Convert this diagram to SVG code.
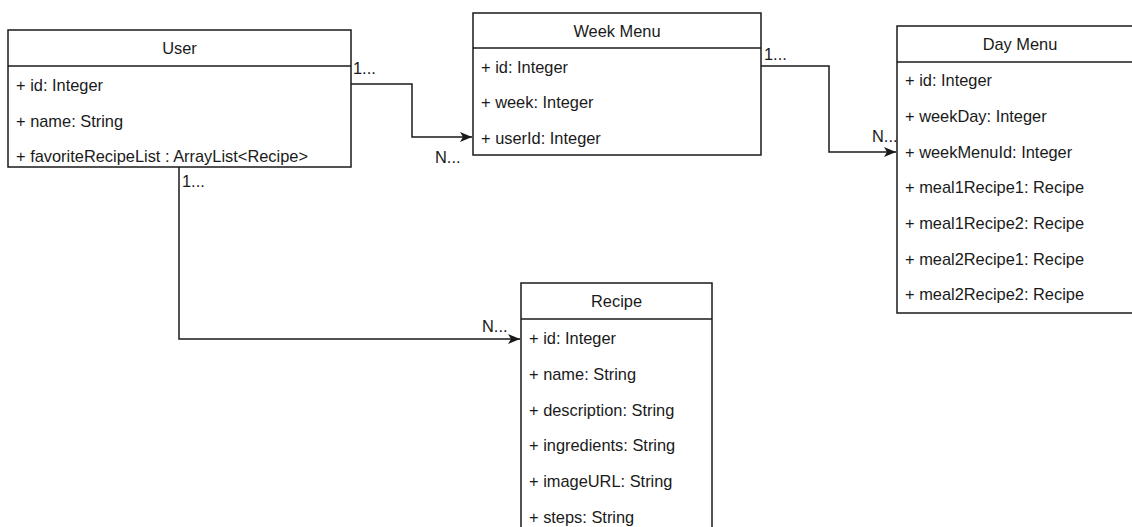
<svg xmlns="http://www.w3.org/2000/svg" width="1132" height="527" viewBox="0 0 1132 527">
<style>
  .box{fill:#fff;stroke:#1a1a1a;stroke-width:1.5}
  .sep{stroke:#1a1a1a;stroke-width:1.5}
  text{font-family:"Liberation Sans",Arial,sans-serif;font-size:16.4px;fill:#1a1a1a}
  .title{text-anchor:middle}
  .edge{fill:none;stroke:#1a1a1a;stroke-width:1.5}
</style>
<defs>
  <marker id="arrow" markerUnits="userSpaceOnUse" markerWidth="14" markerHeight="12" refX="12" refY="5" orient="auto">
    <path d="M0,0 L12,5 L0,10 L3,5 Z" fill="#1a1a1a"/>
  </marker>
</defs>
<rect width="1132" height="527" fill="#fff"/>
<g id="connectors">
  <path class="edge" d="M351,84 H412 V137 H472" marker-end="url(#arrow)"/>
  <path class="edge" d="M761,66 H829 V152 H896" marker-end="url(#arrow)"/>
  <path class="edge" d="M179,167 V339 H520" marker-end="url(#arrow)"/>
  <text x="353" y="74">1...</text>
  <text x="435" y="163">N...</text>
  <text x="764" y="60">1...</text>
  <text x="872" y="142">N...</text>
  <text x="182" y="187">1...</text>
  <text x="482" y="332">N...</text>
</g>
<g id="user">
  <rect class="box" x="8" y="30" width="343" height="137"/>
  <line class="sep" x1="8" y1="66" x2="351" y2="66"/>
  <text class="title" x="179.5" y="54">User</text>
  <text x="16" y="91">+ id: Integer</text>
  <text x="16" y="127">+ name: String</text>
  <text x="16" y="162">+ favoriteRecipeList : ArrayList&lt;Recipe&gt;</text>
</g>
<g id="week-menu">
  <rect class="box" x="473" y="13" width="288" height="142"/>
  <line class="sep" x1="473" y1="48" x2="761" y2="48"/>
  <text class="title" x="617" y="37">Week Menu</text>
  <text x="481" y="73">+ id: Integer</text>
  <text x="481" y="108">+ week: Integer</text>
  <text x="481" y="144">+ userId: Integer</text>
</g>
<g id="day-menu">
  <rect class="box" x="897" y="26" width="246" height="287"/>
  <line class="sep" x1="897" y1="62" x2="1143" y2="62"/>
  <text class="title" x="1020" y="50">Day Menu</text>
  <text x="905" y="86">+ id: Integer</text>
  <text x="905" y="122">+ weekDay: Integer</text>
  <text x="905" y="158">+ weekMenuId: Integer</text>
  <text x="905" y="193">+ meal1Recipe1: Recipe</text>
  <text x="905" y="229">+ meal1Recipe2: Recipe</text>
  <text x="905" y="265">+ meal2Recipe1: Recipe</text>
  <text x="905" y="300">+ meal2Recipe2: Recipe</text>
</g>
<g id="recipe">
  <rect class="box" x="521" y="283" width="191" height="260"/>
  <line class="sep" x1="521" y1="319" x2="712" y2="319"/>
  <text class="title" x="616.5" y="307">Recipe</text>
  <text x="529" y="344">+ id: Integer</text>
  <text x="529" y="380">+ name: String</text>
  <text x="529" y="416">+ description: String</text>
  <text x="529" y="451">+ ingredients: String</text>
  <text x="529" y="487">+ imageURL: String</text>
  <text x="529" y="523">+ steps: String</text>
</g>
</svg>
